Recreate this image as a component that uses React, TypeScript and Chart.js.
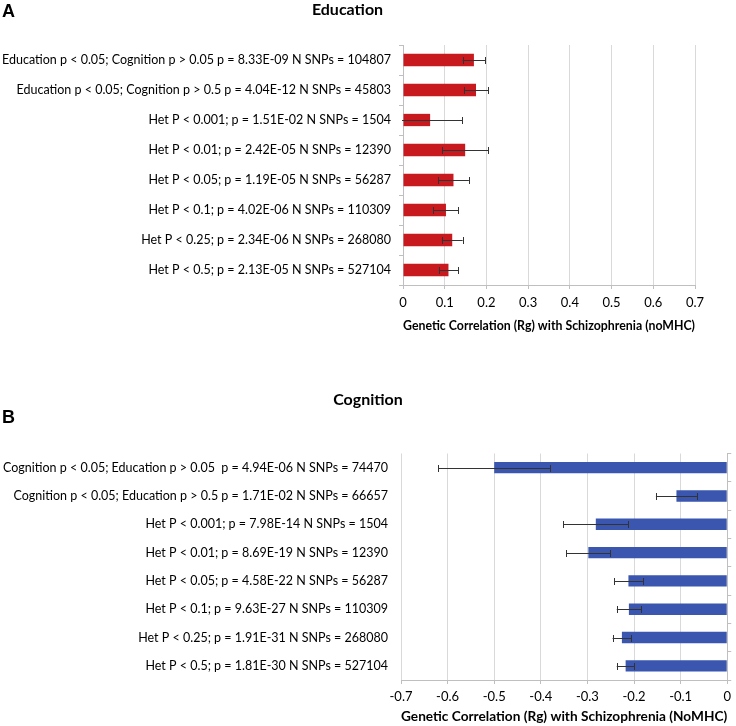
import React, { useEffect, useRef } from "react";
import { Chart, registerables } from "chart.js";

Chart.register(...registerables);

const FONT = "Lato, 'Open Sans', sans-serif";

// Panel A — Education
const eduCategories = [
  "Education p < 0.05; Cognition p > 0.05 p = 8.33E-09 N SNPs = 104807",
  "Education p < 0.05; Cognition p > 0.5 p = 4.04E-12 N SNPs = 45803",
  "Het P < 0.001; p = 1.51E-02 N SNPs = 1504",
  "Het P < 0.01; p = 2.42E-05 N SNPs = 12390",
  "Het P < 0.05; p = 1.19E-05 N SNPs = 56287",
  "Het P < 0.1; p = 4.02E-06 N SNPs = 110309",
  "Het P < 0.25; p = 2.34E-06 N SNPs = 268080",
  "Het P < 0.5; p = 2.13E-05 N SNPs = 527104",
];
const eduValues = [0.17, 0.175, 0.065, 0.149, 0.121, 0.103, 0.118, 0.109];
const eduErrors = [0.027, 0.029, 0.077, 0.055, 0.037, 0.03, 0.025, 0.023];
const eduTicks = [0, 0.1, 0.2, 0.3, 0.4, 0.5, 0.6, 0.7];

// Panel B — Cognition
const cogCategories = [
  "Cognition p < 0.05; Education p > 0.05  p = 4.94E-06 N SNPs = 74470",
  "Cognition p < 0.05; Education p > 0.5 p = 1.71E-02 N SNPs = 66657",
  "Het P < 0.001; p = 7.98E-14 N SNPs = 1504",
  "Het P < 0.01; p = 8.69E-19 N SNPs = 12390",
  "Het P < 0.05; p = 4.58E-22 N SNPs = 56287",
  "Het P < 0.1; p = 9.63E-27 N SNPs = 110309",
  "Het P < 0.25; p = 1.91E-31 N SNPs = 268080",
  "Het P < 0.5; p = 1.81E-30 N SNPs = 527104",
];
const cogValues = [-0.5, -0.109, -0.282, -0.298, -0.212, -0.211, -0.226, -0.218];
const cogErrors = [0.12, 0.044, 0.07, 0.047, 0.031, 0.026, 0.02, 0.019];
const cogTicks = [-0.7, -0.6, -0.5, -0.4, -0.3, -0.2, -0.1, 0];

const errorBarPlugin = {
  id: "errorBars",
  afterDatasetsDraw(chart: any, _args: any, opts: any) {
    const errs: number[] = opts.errors;
    if (!errs) return;
    const meta = chart.getDatasetMeta(0);
    const xs = chart.scales.x;
    const vals: number[] = chart.data.datasets[0].data;
    const ctx = chart.ctx;
    const a = chart.chartArea;
    ctx.save();
    ctx.beginPath();
    ctx.rect(a.left - 1, a.top, a.right - a.left + 2, a.bottom - a.top);
    ctx.clip();
    ctx.strokeStyle = opts.color || "#333";
    ctx.lineWidth = 1;
    meta.data.forEach((bar: any, i: number) => {
      const v = vals[i];
      const e = errs[i];
      const x1 = xs.getPixelForValue(v - e);
      const x2 = xs.getPixelForValue(v + e);
      const y = Math.round(bar.y) + 0.5;
      ctx.beginPath();
      ctx.moveTo(x1, y);
      ctx.lineTo(x2, y);
      [x1, x2].forEach((x) => {
        const cx = Math.round(x) + 0.5;
        ctx.moveTo(cx, y - 3.5);
        ctx.lineTo(cx, y + 3.5);
      });
      ctx.stroke();
    });
    ctx.restore();
  },
};

const GRID = "#d9d9d9";
const AXIS = "#bfbfbf";

function makeEdu(canvas: HTMLCanvasElement) {
  return new Chart(canvas, {
    type: "bar",
    data: {
      labels: eduCategories,
      datasets: [
        {
          data: eduValues,
          backgroundColor: "#C8191F",
          barPercentage: 0.41,
          categoryPercentage: 1,
        },
      ],
    },
    plugins: [errorBarPlugin],
    options: {
      indexAxis: "y",
      responsive: false,
      animation: false,
      layout: { padding: { left: 0, right: 41, top: 0, bottom: 0 } },
      plugins: {
        legend: { display: false },
        tooltip: { enabled: false },
        title: {
          display: true,
          text: "Education",
          color: "#000",
          font: { family: FONT, size: 16, weight: "bold", lineHeight: 1.2 },
          padding: { top: 0, bottom: 25.8 },
        },
        errorBars: { errors: eduErrors, color: "#333" },
      } as any,
      scales: {
        x: {
          type: "linear",
          min: 0,
          max: 0.7,
          afterBuildTicks: (s: any) => {
            s.ticks = eduTicks.map((v) => ({ value: v }));
          },
          afterFit: (s: any) => {
            s.height = 55;
          },
          grid: { color: GRID, tickColor: AXIS, tickLength: 4 },
          border: { color: AXIS },
          ticks: { color: "#000", font: { family: FONT, size: 13 }, padding: 6 },
          title: {
            display: true,
            text: "Genetic Correlation (Rg) with Schizophrenia (noMHC)",
            color: "#000",
            font: { family: FONT, size: 14, weight: "bold", lineHeight: 1.2 },
            padding: { top: 0, bottom: 6.5 },
          },
        },
        y: {
          afterFit: (s: any) => {
            s.width = 403;
          },
          grid: { display: true, drawOnChartArea: false, offset: true, tickLength: 4, color: AXIS },
          border: { color: AXIS },
          ticks: { color: "#000", font: { family: FONT, size: 12.5 }, padding: 8, autoSkip: false },
        },
      } as any,
    },
  } as any);
}

function makeCog(canvas: HTMLCanvasElement) {
  return new Chart(canvas, {
    type: "bar",
    data: {
      labels: cogCategories,
      datasets: [
        {
          data: cogValues,
          backgroundColor: "#3A56AF",
          barPercentage: 0.4,
          categoryPercentage: 1,
        },
      ],
    },
    plugins: [errorBarPlugin],
    options: {
      indexAxis: "y",
      responsive: false,
      animation: false,
      layout: { padding: { left: 0, right: 0, top: 0, bottom: 0 } },
      plugins: {
        legend: { display: false },
        tooltip: { enabled: false },
        title: {
          display: true,
          text: "Cognition",
          color: "#000",
          font: { family: FONT, size: 16, weight: "bold", lineHeight: 1.2 },
          padding: { top: 50, bottom: 44.3 },
        },
        errorBars: { errors: cogErrors, color: "#333" },
      } as any,
      scales: {
        x: {
          type: "linear",
          min: -0.7,
          max: 0,
          afterBuildTicks: (s: any) => {
            s.ticks = cogTicks.map((v) => ({ value: v }));
          },
          afterFit: (s: any) => {
            s.height = 46;
          },
          grid: { color: GRID, tickColor: AXIS, tickLength: 4 },
          border: { color: AXIS },
          ticks: { color: "#000", font: { family: FONT, size: 13 }, padding: 5 },
          title: {
            display: true,
            text: "Genetic Correlation (Rg) with Schizophrenia (NoMHC)",
            color: "#000",
            font: { family: FONT, size: 14, weight: "bold", lineHeight: 1.2 },
            padding: { top: 0, bottom: 1.6 },
          },
        },
        y: {
          position: "left",
          afterFit: (s: any) => {
            s.width = 401;
          },
          grid: { display: false, drawTicks: false },
          border: { display: false },
          ticks: { color: "#000", font: { family: FONT, size: 12.5 }, padding: 13, autoSkip: false },
        },
        y2: {
          type: "category",
          position: "right",
          labels: cogCategories,
          offset: true,
          afterFit: (s: any) => {
            s.width = 4;
          },
          grid: { display: true, drawOnChartArea: false, offset: true, tickLength: 4, color: AXIS },
          border: { color: AXIS },
          ticks: { display: false },
        },
      } as any,
    },
  } as any);
}

export default function App() {
  const refA = useRef<HTMLCanvasElement>(null);
  const refB = useRef<HTMLCanvasElement>(null);

  useEffect(() => {
    const a = makeEdu(refA.current!);
    const b = makeCog(refB.current!);
    return () => {
      a.destroy();
      b.destroy();
    };
  }, []);

  const letter: React.CSSProperties = {
    position: "absolute",
    left: 2,
    fontFamily: "'Liberation Sans', Arial, sans-serif",
    fontWeight: "bold",
    fontSize: 18,
    lineHeight: "18px",
    color: "#000",
  };

  return (
    <div style={{ position: "absolute", left: 0, top: 0, width: 736, height: 726, background: "#fff" }}>
      <canvas ref={refA} width={736} height={340} style={{ position: "absolute", left: 0, top: 0 }} />
      <canvas ref={refB} width={736} height={386} style={{ position: "absolute", left: 0, top: 340 }} />
      <div style={{ ...letter, top: 2 }}>A</div>
      <div style={{ ...letter, top: 408 }}>B</div>
    </div>
  );
}
